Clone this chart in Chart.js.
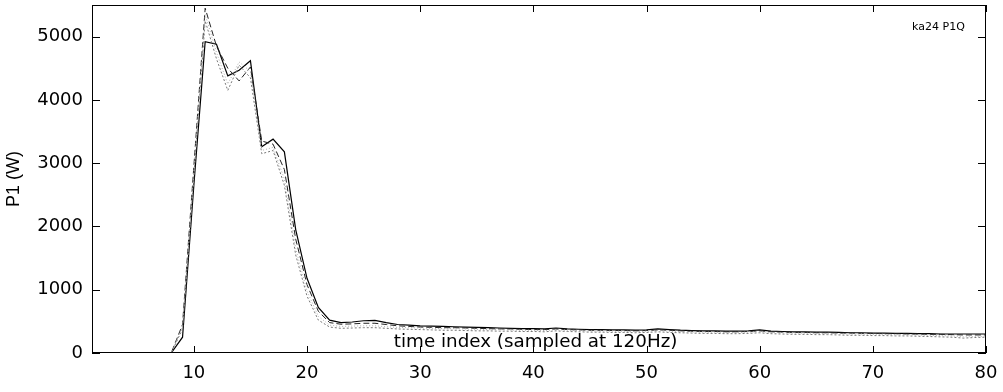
<!DOCTYPE html>
<html>
<head>
<meta charset="utf-8">
<script src="https://cdn.jsdelivr.net/npm/chart.js@4.4.1/dist/chart.umd.min.js"></script>
<style>
html,body{margin:0;padding:0;background:#fff;}
#wrap{width:1003px;height:392px;}
</style>
</head>
<body>
<div id="wrap"><canvas id="c" width="1003" height="392"></canvas></div>
<script>
// ---- data ----
const timeIndex = [1,2,3,4,5,6,7,8,9,10,11,12,13,14,15,16,17,18,19,20,
  21,22,23,24,25,26,27,28,29,30,31,32,33,34,35,36,37,38,39,40,
  41,42,43,44,45,46,47,48,49,50,51,52,53,54,55,56,57,58,59,60,
  61,62,63,64,65,66,67,68,69,70,71,72,73,74,75,76,77,78,79,80];

const seriesSolid = [0,0,0,0,0,0,0,0,250,2650,4920,4880,4380,4470,4620,3260,3380,3180,1950,1180,
  720,520,480,490,510,515,480,450,440,430,425,420,415,410,405,400,395,390,385,385,
  380,395,380,375,370,370,365,365,360,365,380,370,360,355,350,350,345,345,350,365,
  345,340,335,335,330,330,325,320,320,315,315,310,310,305,305,300,300,300,300,300];

const seriesDashed = [0,0,0,0,0,0,0,0,450,2950,5450,4850,4500,4300,4520,3350,3300,2900,1800,1080,
  660,480,455,460,470,470,450,430,420,410,405,400,400,395,390,385,380,380,375,370,
  370,380,370,365,360,360,355,355,350,355,365,360,350,345,340,340,335,335,340,350,
  335,330,325,325,320,320,315,315,310,310,305,305,300,300,295,295,290,285,285,285];

const seriesGray = [0,0,0,0,0,0,0,0,380,2800,5250,4650,4150,4550,4350,3150,3200,2650,1550,900,
  520,410,390,395,400,400,390,380,375,370,365,360,360,355,350,350,345,345,340,340,
  335,350,340,335,330,330,325,325,320,325,335,325,320,315,310,310,305,305,310,320,
  305,300,295,295,290,290,285,280,280,275,275,270,270,265,260,255,250,235,245,250];

const seriesLight = [0,0,0,0,0,0,0,0,420,2850,5350,4750,4250,4600,4450,3200,3250,2750,1650,980,
  580,440,420,425,430,430,415,405,400,395,390,385,385,380,375,370,370,365,360,360,
  355,370,360,355,350,350,345,345,340,345,355,345,340,335,330,330,325,325,330,340,
  325,320,315,315,310,310,305,300,300,295,295,290,290,285,280,275,270,255,260,265];

const xTicks = [10,20,30,40,50,60,70,80];
const yTicks = [0,1000,2000,3000,4000,5000];
const xLabel = 'time index (sampled at 120Hz)';
const yLabel = 'P1 (W)';
const plotTag = 'ka24 P1Q';

// ---- chart ----
const pts = arr => arr.map((v,i) => ({x: timeIndex[i], y: v}));

const decor = {
  id: 'decor',
  afterDatasetsDraw(chart) {
    const {ctx, chartArea: a, scales: {x, y}} = chart;
    ctx.save();
    ctx.strokeStyle = '#000';
    ctx.lineWidth = 1;
    ctx.strokeRect(a.left + 0.5, a.top + 0.5, a.right - a.left - 1, a.bottom - a.top - 1);
    ctx.beginPath();
    x.ticks.forEach(t => {
      const p = Math.round(x.getPixelForValue(t.value)) + 0.5;
      ctx.moveTo(p, a.bottom); ctx.lineTo(p, a.bottom - 7);
      ctx.moveTo(p, a.top); ctx.lineTo(p, a.top + 7);
    });
    y.ticks.forEach(t => {
      const p = Math.round(y.getPixelForValue(t.value)) + 0.5;
      ctx.moveTo(a.left, p); ctx.lineTo(a.left + 8, p);
      ctx.moveTo(a.right, p); ctx.lineTo(a.right - 8, p);
    });
    ctx.stroke();
    ctx.fillStyle = '#000';
    ctx.textBaseline = 'middle';
    ctx.textAlign = 'center';
    ctx.font = '18.3px "DejaVu Sans"';
    ctx.fillText(xLabel, x.getPixelForValue(40.2), a.bottom - 11);
    ctx.font = '11px "DejaVu Sans"';
    ctx.fillText(plotTag, x.getPixelForValue(75.8), a.top + 22);
    ctx.restore();
  }
};

new Chart(document.getElementById('c'), {
  type: 'line',
  data: {
    datasets: [
      {data: pts(seriesLight), borderColor: '#b0b0b0', borderWidth: 1, borderDash: [1, 2], pointRadius: 0, tension: 0},
      {data: pts(seriesGray), borderColor: '#777', borderWidth: 1, borderDash: [2, 2], pointRadius: 0, tension: 0},
      {data: pts(seriesDashed), borderColor: '#222', borderWidth: 1, borderDash: [6, 3], pointRadius: 0, tension: 0},
      {data: pts(seriesSolid), borderColor: '#000', borderWidth: 1.2, pointRadius: 0, tension: 0}
    ]
  },
  options: {
    responsive: false,
    animation: false,
    devicePixelRatio: 1,
    layout: {padding: {top: 5, right: 17, left: 0, bottom: 0}},
    plugins: {legend: {display: false}, tooltip: {enabled: false}},
    scales: {
      x: {
        type: 'linear', min: 1, max: 80,
        afterBuildTicks: s => { s.ticks = xTicks.map(v => ({value: v})); },
        afterFit: s => { s.height = 39; s.paddingLeft = 0; s.paddingRight = 0; },
        grid: {display: false, drawTicks: false},
        border: {display: false},
        ticks: {color: '#000', padding: 10, font: {family: 'DejaVu Sans', size: 18}, maxRotation: 0,
                callback: v => String(v)}
      },
      y: {
        type: 'linear', min: 0, max: 5500,
        afterBuildTicks: s => { s.ticks = yTicks.map(v => ({value: v})); },
        afterFit: s => { s.width = 92; s.paddingTop = 0; s.paddingBottom = 0; },
        grid: {display: false, drawTicks: false},
        border: {display: false},
        ticks: {color: '#000', padding: 9, font: {family: 'DejaVu Sans', size: 18},
                callback: v => String(v)},
        title: {display: true, text: yLabel, color: '#000', font: {family: 'Liberation Sans', size: 18}, padding: {top: 3, bottom: 0}}
      }
    }
  },
  plugins: [decor]
});
</script>
</body>
</html>
